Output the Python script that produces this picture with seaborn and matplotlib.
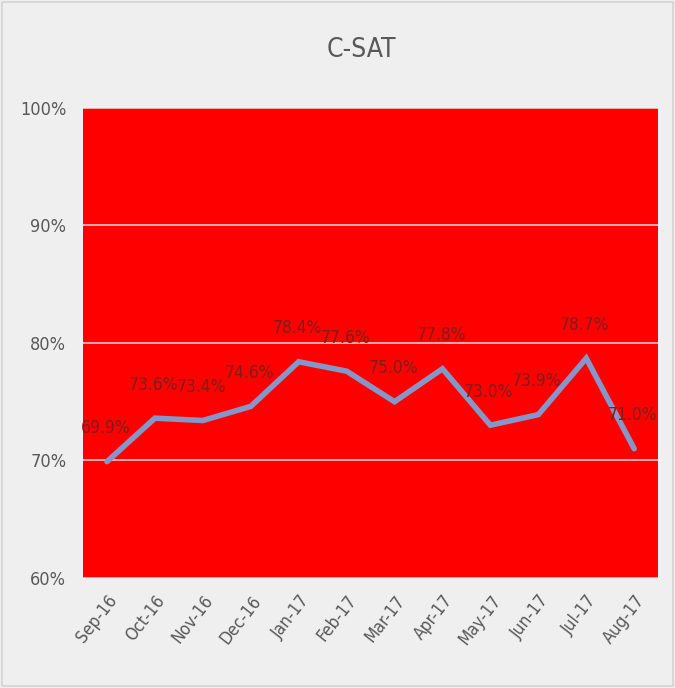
import matplotlib
matplotlib.use("Agg")
import matplotlib.pyplot as plt
from matplotlib.patches import Rectangle
from matplotlib.ticker import FuncFormatter
from matplotlib import font_manager
import numpy as np
import pandas as pd
import seaborn as sns

months = ["Sep-16", "Oct-16", "Nov-16", "Dec-16", "Jan-17", "Feb-17",
          "Mar-17", "Apr-17", "May-17", "Jun-17", "Jul-17", "Aug-17"]
csat = [69.9, 73.6, 73.4, 74.6, 78.4, 77.6, 75.0, 77.8, 73.0, 73.9, 78.7, 71.0]

df = pd.DataFrame({"month": months, "csat": csat, "x": np.arange(len(months))})

sns.set_theme(style="white")
names = {f.name for f in font_manager.fontManager.ttflist}
narrow = [n for n in ["Liberation Sans Narrow", "DejaVu Sans Condensed"] if n in names]
plt.rcParams["font.family"] = narrow + ["DejaVu Sans"]
plt.rcParams["font.stretch"] = "condensed"

bg = "#EFEFEF"
text_col = "#595959"

fig = plt.figure(figsize=(6.75, 6.88), dpi=100, facecolor=bg)
fig.patches.append(Rectangle((0.003, 0.003), 0.994, 0.994, transform=fig.transFigure,
                             fill=False, edgecolor="#D4D4D4", lw=1.2))
ax = fig.add_axes([0.123, 0.160, 0.852, 0.683])
ax.set_facecolor("#FF0000")

sns.lineplot(data=df, x="x", y="csat", ax=ax, color="#8497C8", lw=4,
             solid_joinstyle="miter", zorder=3)

for xi, v in zip(df["x"], df["csat"]):
    ax.annotate(f"{v:.1f}%", (xi, v), xytext=(-1, 24), textcoords="offset points",
                ha="center", va="center", fontsize=12.5, color="#7E1C1C", zorder=4)

ax.set_xlim(-0.5, len(months) - 0.5)
ax.set_ylim(60, 100)
ax.set_yticks([60, 70, 80, 90, 100])
ax.yaxis.set_major_formatter(FuncFormatter(lambda v, p: f"{v:.0f}%"))
ax.grid(axis="y", color="#F4C8C8", lw=1.2, zorder=1)
ax.set_axisbelow(True)
ax.set_xticks(df["x"])
ax.set_xticklabels(months, rotation=52, ha="right", rotation_mode="anchor")
ax.tick_params(axis="both", colors=text_col, labelsize=13, length=0)
ax.tick_params(axis="x", labelsize=12.5, pad=10)
ax.tick_params(axis="y", pad=12)
for s in ax.spines.values():
    s.set_visible(False)
ax.set_xlabel("")
ax.set_ylabel("")

fig.text(0.535, 0.927, "C-SAT", ha="center", va="center", fontsize=19, color=text_col)

fig.savefig("out.png", dpi=100, facecolor=bg)
